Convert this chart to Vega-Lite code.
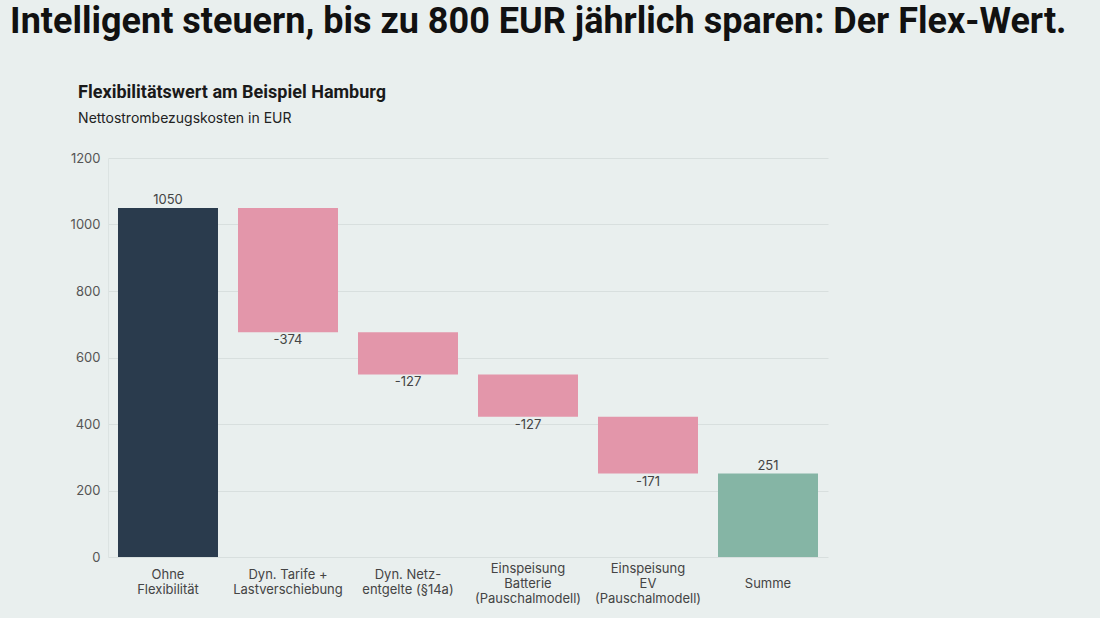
{
  "$schema": "https://vega.github.io/schema/vega-lite/v6.json",
  "background": "#e9efee",
  "padding": {"left": 10, "top": 4, "right": 80, "bottom": 16},
  "title": {
    "text": "Intelligent steuern, bis zu 800 EUR jährlich sparen: Der Flex-Wert.",
    "anchor": "start",
    "frame": "bounds",
    "dx": -60,
    "fontSize": 36,
    "font": "Roboto",
    "fontWeight": "bold",
    "color": "#111111",
    "offset": 43
  },
  "datasets": {
    "wf": [
      {"cat": "Ohne|Flexibilität", "start": 0, "end": 1050, "value": "1050", "kind": "total"},
      {"cat": "Dyn. Tarife +|Lastverschiebung", "start": 1050, "end": 676, "value": "-374", "kind": "neg"},
      {"cat": "Dyn. Netz-|entgelte (§14a)", "start": 676, "end": 549, "value": "-127", "kind": "neg"},
      {"cat": "Einspeisung|Batterie|(Pauschalmodell)", "start": 549, "end": 422, "value": "-127", "kind": "neg"},
      {"cat": "Einspeisung|EV|(Pauschalmodell)", "start": 422, "end": 251, "value": "-171", "kind": "neg"},
      {"cat": "Summe", "start": 0, "end": 251, "value": "251", "kind": "sum"}
    ]
  },
  "vconcat": [
    {
      "width": 720,
      "height": 399,
      "title": {
        "text": "Flexibilitätswert am Beispiel Hamburg",
        "subtitle": "Nettostrombezugskosten in EUR",
        "anchor": "start",
        "frame": "bounds",
        "dx": 8,
        "font": "Roboto",
        "fontSize": 18,
        "fontWeight": "bold",
        "color": "#1a1a1a",
        "subtitleFont": "Inter",
        "subtitleFontSize": 14,
        "subtitleColor": "#222222",
        "subtitlePadding": 10,
        "offset": 26
      },
      "data": {"name": "wf"},
      "encoding": {
        "x": {
          "field": "cat",
          "type": "nominal",
          "sort": null,
          "scale": {"paddingInner": 0.1667, "paddingOuter": 0.0833},
          "axis": {
            "title": null,
            "labelExpr": "split(datum.label, '|')",
            "labelAngle": 0,
            "labelBaseline": "middle",
            "labelPadding": {
              "condition": [
                {"test": "indexof(datum.value, '(P') >= 0", "value": 11.5},
                {"test": "indexof(datum.value, '|') >= 0", "value": 17}
              ],
              "value": 26.5
            },
            "labelLineHeight": 15,
            "labelFontSize": 13,
            "labelColor": "#444444",
            "ticks": false,
            "domain": false,
            "grid": false
          }
        }
      },
      "layer": [
        {
          "mark": {"type": "bar"},
          "encoding": {
            "y": {
              "field": "start",
              "type": "quantitative",
              "scale": {"domain": [0, 1200], "nice": false},
              "axis": {
                "title": null,
                "values": [0, 200, 400, 600, 800, 1000, 1200],
                "format": "d",
                "labelFontSize": 13,
                "labelColor": "#555555",
                "labelPadding": 8,
                "ticks": false,
                "domain": true,
                "domainColor": "#dce3e2",
                "gridColor": "#d8dfde"
              }
            },
            "y2": {"field": "end"},
            "color": {
              "field": "kind",
              "type": "nominal",
              "scale": {"domain": ["total", "neg", "sum"], "range": ["#2a3b4d", "#e396aa", "#85b5a5"]},
              "legend": null
            }
          }
        },
        {
          "transform": [{"filter": "datum.kind != 'neg'"}],
          "mark": {"type": "text", "baseline": "bottom", "dy": -1, "fontSize": 13, "color": "#444444", "font": "Inter"},
          "encoding": {
            "y": {"field": "end", "type": "quantitative"},
            "text": {"field": "value"}
          }
        },
        {
          "transform": [{"filter": "datum.kind == 'neg'"}],
          "mark": {"type": "text", "baseline": "top", "dy": 2, "fontSize": 13, "color": "#444444", "font": "Inter"},
          "encoding": {
            "y": {"field": "end", "type": "quantitative"},
            "text": {"field": "value"}
          }
        }
      ]
    }
  ],
  "config": {
    "view": {"stroke": null},
    "font": "Inter",
    "axis": {"labelFont": "Inter"}
  }
}
